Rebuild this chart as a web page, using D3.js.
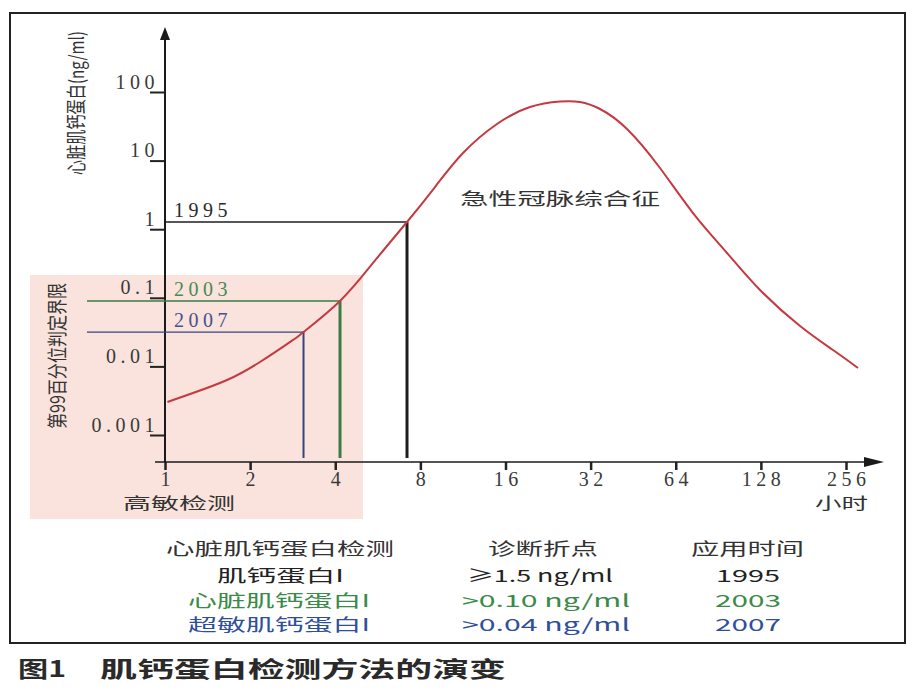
<!DOCTYPE html>
<html>
<head>
<meta charset="utf-8">
<script src="https://cdn.jsdelivr.net/npm/d3@7"></script>
<style>
  html, body { margin: 0; padding: 0; background: #ffffff; }
  svg { display: block; }
</style>
</head>
<body>
<svg id="chart" width="920" height="690"></svg>
<script>
// ---------------- data ----------------
const curveHours  = [1.02, 1.256, 1.657, 2.167, 2.836, 3.089, 4.158, 5.44, 7.175, 9.01, 11.32, 14.93, 19.53, 24.94, 29.34, 34.54, 43.03, 56.29, 73.66, 97.16, 127.1, 176.1, 230.3, 282.3];
const curveValues = [0.00303, 0.00409, 0.00633, 0.0116, 0.0243, 0.0317, 0.0898, 0.322, 1.273, 4.12, 12.9, 34.2, 60.4, 72.7, 71.5, 56.5, 28.9, 7.80, 1.72, 0.450, 0.130, 0.0388, 0.01734, 0.00948];

const cutYears  = ["1995", "2003", "2007"];
const cutHours  = [7.175, 4.158, 3.089];
const cutValues = [1.273, 0.0898, 0.0317];

const xTicks = [1, 2, 4, 8, 16, 32, 64, 128, 256];
const yTicks = [0.001, 0.01, 0.1, 1, 10, 100];
const yTickLabels = ["0.001", "0.01", "0.1", "1", "10", "100"];

const tableHeader = ["心脏肌钙蛋白检测", "诊断折点", "应用时间"];
const tableAssays = ["肌钙蛋白I", "心脏肌钙蛋白I", "超敏肌钙蛋白I"];
const tableCutoffs = ["≥1.5 ng/ml", ">0.10 ng/ml", ">0.04 ng/ml"];
const tableYears = ["1995", "2003", "2007"];

// ---------------- setup ----------------
const svg = d3.select("#chart");
const serif = "'Liberation Serif', 'DejaVu Serif', serif";
const cjk = "'Noto Sans CJK SC', 'Noto Sans', sans-serif";

const x = d3.scaleLog().base(2).domain([1, 256]).range([165, 846]);
const y = d3.scaleLog().base(10).domain([0.001, 100]).range([435, 92]);
const axisY = 462;   // x-axis baseline
const axisX = 165;   // y-axis position

const colBlack = "#1e1e1e", colGreen = "#3d7a45", colBlue = "#34447f";
const cutColors = [colBlack, colGreen, colBlue];
const labelColors = ["#2a2a2a", "#4a8a52", "#45518f"];

// frame
svg.append("rect").attr("x", 10).attr("y", 13).attr("width", 895).attr("height", 630)
  .attr("fill", "none").attr("stroke", "#222").attr("stroke-width", 2);

// pink highlighted region
svg.append("rect").attr("x", 30).attr("y", 275).attr("width", 333).attr("height", 244)
  .attr("fill", "#f9e3dc");

// ---------------- axes ----------------
const yAxis = d3.axisLeft(y).tickValues(yTicks).tickSize(15)
  .tickFormat((d, i) => yTickLabels[i]);
const gy = svg.append("g").attr("transform", `translate(${axisX},0)`).call(yAxis);
gy.select(".domain").remove();
gy.selectAll(".tick line").attr("stroke", "#222").attr("stroke-width", 2);
gy.selectAll(".tick text")
  .attr("x", -6).attr("dy", "-0.2em")
  .attr("font-family", serif).attr("font-size", 20).attr("letter-spacing", 4.5)
  .attr("fill", "#3a3a3a");

const xAxis = d3.axisBottom(x).tickValues(xTicks).tickSize(8).tickFormat(d => d);
const gx = svg.append("g").attr("transform", `translate(0,${axisY})`).call(xAxis);
gx.select(".domain").remove();
gx.selectAll(".tick line").attr("stroke", "#222").attr("stroke-width", 2.5);
gx.selectAll(".tick text")
  .attr("y", 10).attr("dx", "0.11em")
  .attr("font-family", serif).attr("font-size", 20).attr("letter-spacing", 4.5)
  .attr("fill", "#3a3a3a");

// axis lines and arrows
svg.append("line").attr("x1", axisX).attr("x2", axisX).attr("y1", 36).attr("y2", axisY)
  .attr("stroke", "#1a1a1a").attr("stroke-width", 2);
svg.append("path").attr("d", `M${axisX},27 L${axisX - 5},40 L${axisX + 5},40 Z`).attr("fill", "#1a1a1a");
svg.append("line").attr("x1", 155).attr("x2", 868).attr("y1", axisY).attr("y2", axisY)
  .attr("stroke", "#1a1a1a").attr("stroke-width", 1.6);
svg.append("path").attr("d", `M884,${axisY} L864,${axisY - 5} L864,${axisY + 5} Z`).attr("fill", "#1a1a1a");

// ---------------- cut-off guide lines ----------------
const hStart = [axisX, 87, 87];
const vWidth = [3, 3, 2];
cutYears.forEach((yr, i) => {
  const px = x(cutHours[i]), py = y(cutValues[i]);
  svg.append("line").attr("x1", hStart[i]).attr("x2", px).attr("y1", py).attr("y2", py)
    .attr("stroke", cutColors[i]).attr("stroke-width", 1.3);
  svg.append("line").attr("x1", px).attr("x2", px).attr("y1", py).attr("y2", axisY - 4)
    .attr("stroke", cutColors[i]).attr("stroke-width", vWidth[i]);
  svg.append("text").attr("x", 174).attr("y", py - 5)
    .attr("font-family", serif).attr("font-size", 20).attr("letter-spacing", 4.5)
    .attr("fill", labelColors[i]).text(yr);
});

// ---------------- curve ----------------
const pts = curveHours.map((h, i) => [h, curveValues[i]]);
const line = d3.line().x(d => x(d[0])).y(d => y(d[1])).curve(d3.curveNatural);
svg.append("path").datum(pts).attr("d", line)
  .attr("fill", "none").attr("stroke", "#c43a42").attr("stroke-width", 2);

// ---------------- text labels ----------------
function stretchText(xc, yb, str, len, size, color, anchor, weight) {
  return svg.append("text").attr("x", xc).attr("y", yb)
    .attr("font-family", cjk).attr("font-size", size).attr("fill", color)
    .attr("font-weight", weight || 400)
    .attr("text-anchor", anchor || "start")
    .attr("textLength", len).attr("lengthAdjust", "spacingAndGlyphs").text(str);
}

// rotated y titles: squeezed along the baseline with a transform to fit the target length
function rotatedTitle(cx, cy, str, len) {
  const t = svg.append("text")
    .attr("text-anchor", "middle").attr("dominant-baseline", "central")
    .attr("font-family", cjk).attr("font-size", 20).attr("fill", "#333")
    .text(str);
  const natural = t.node().getComputedTextLength();
  const s = len / natural;
  t.attr("transform", `translate(${cx},${cy}) rotate(-90) scale(${s},1)`);
  return t;
}
rotatedTitle(75, 103, "心脏肌钙蛋白(ng/ml)", 144);
rotatedTitle(56, 356, "第99百分位判定界限", 146);

stretchText(460, 205, "急性冠脉综合征", 200, 17, "#333");
stretchText(123, 509, "高敏检测", 112, 16, "#333");
stretchText(815, 509, "小时", 53, 16, "#333");

// ---------------- table ----------------
const rowColorsText = ["#222", "#3a8a48", "#2f4f9c"];
stretchText(166, 555, tableHeader[0], 228, 17, "#333");
stretchText(488, 555, tableHeader[1], 110, 17, "#333");
stretchText(691, 555, tableHeader[2], 113, 17, "#333");

const col1 = [[217, 127], [188, 182], [188, 182]];
const col2 = [[467, 146], [462, 168], [462, 168]];
const col3 = [[716, 64], [715, 66], [715, 66]];
const rowY = [582, 607, 631];
tableAssays.forEach((s, i) => {
  stretchText(col1[i][0], rowY[i], s, col1[i][1], 17, rowColorsText[i]);
  stretchText(col2[i][0], rowY[i], tableCutoffs[i], col2[i][1], 17, rowColorsText[i]);
  stretchText(col3[i][0], rowY[i], tableYears[i], col3[i][1], 17, rowColorsText[i]);
});

// ---------------- caption ----------------
stretchText(18, 677, "图1", 48, 22, "#2a2a2a", "start", 600);
stretchText(100, 677, "肌钙蛋白检测方法的演变", 406, 22, "#2a2a2a", "start", 600);
</script>
</body>
</html>
